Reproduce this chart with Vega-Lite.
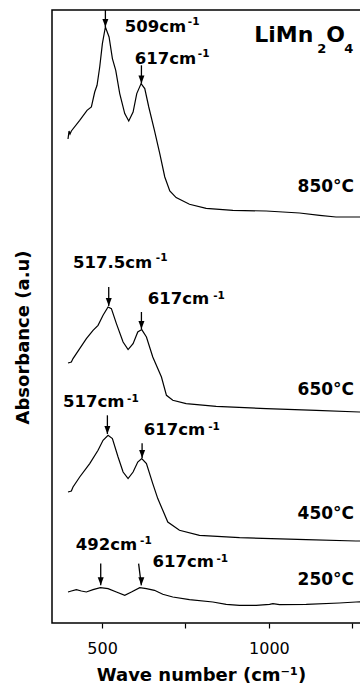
{
  "$schema": "https://vega.github.io/schema/vega-lite/v6.json",
  "autosize": {"type": "none"},
  "padding": {"left": 52, "top": 10, "right": 0, "bottom": 61},
  "width": 317,
  "height": 613,
  "background": "white",
  "config": {
    "view": {"stroke": "black", "strokeWidth": 1.5},
    "font": "DejaVu Sans"
  },
  "datasets": {
    "spectra": [
      {"s": "850", "x": 398, "y": 484}, {"s": "850", "x": 401, "y": 492}, {"s": "850", "x": 404, "y": 489}, {"s": "850", "x": 408, "y": 492},
      {"s": "850", "x": 433, "y": 502.7}, {"s": "850", "x": 455, "y": 512.7}, {"s": "850", "x": 468, "y": 516}, {"s": "850", "x": 478, "y": 531},
      {"s": "850", "x": 485, "y": 537.7}, {"s": "850", "x": 493, "y": 556}, {"s": "850", "x": 501, "y": 579.4}, {"s": "850", "x": 510, "y": 596},
      {"s": "850", "x": 521, "y": 586}, {"s": "850", "x": 531, "y": 564.4}, {"s": "850", "x": 541, "y": 552.7}, {"s": "850", "x": 553, "y": 529.4},
      {"s": "850", "x": 568, "y": 509.4}, {"s": "850", "x": 580, "y": 502}, {"s": "850", "x": 593, "y": 511}, {"s": "850", "x": 604, "y": 529.4},
      {"s": "850", "x": 617, "y": 539.4}, {"s": "850", "x": 628, "y": 534.4}, {"s": "850", "x": 640, "y": 516}, {"s": "850", "x": 657, "y": 492.7},
      {"s": "850", "x": 673, "y": 469.4}, {"s": "850", "x": 688, "y": 446}, {"s": "850", "x": 703, "y": 432}, {"s": "850", "x": 722, "y": 425.4},
      {"s": "850", "x": 762, "y": 418.7}, {"s": "850", "x": 812, "y": 414.7}, {"s": "850", "x": 892, "y": 412.7}, {"s": "850", "x": 992, "y": 412},
      {"s": "850", "x": 1092, "y": 410}, {"s": "850", "x": 1152, "y": 407.7}, {"s": "850", "x": 1201, "y": 406}, {"s": "850", "x": 1271, "y": 406},
      {"s": "850", "x": 1300, "y": 406},
      {"s": "650", "x": 398, "y": 260}, {"s": "650", "x": 408, "y": 261}, {"s": "650", "x": 413, "y": 264.4}, {"s": "650", "x": 433, "y": 274.4},
      {"s": "650", "x": 453, "y": 284.4}, {"s": "650", "x": 473, "y": 292.7}, {"s": "650", "x": 488, "y": 297.7}, {"s": "650", "x": 503, "y": 307.7},
      {"s": "650", "x": 518, "y": 316}, {"s": "650", "x": 528, "y": 314.4}, {"s": "650", "x": 543, "y": 299.4}, {"s": "650", "x": 563, "y": 281},
      {"s": "650", "x": 578, "y": 273.4}, {"s": "650", "x": 593, "y": 279.4}, {"s": "650", "x": 607, "y": 291}, {"s": "650", "x": 619, "y": 293.4},
      {"s": "650", "x": 633, "y": 286}, {"s": "650", "x": 652, "y": 266}, {"s": "650", "x": 678, "y": 246}, {"s": "650", "x": 693, "y": 227.7},
      {"s": "650", "x": 712, "y": 222.7}, {"s": "650", "x": 752, "y": 219.4}, {"s": "650", "x": 842, "y": 216.7}, {"s": "650", "x": 992, "y": 214.4},
      {"s": "650", "x": 1142, "y": 212.7}, {"s": "650", "x": 1271, "y": 211}, {"s": "650", "x": 1300, "y": 211},
      {"s": "450", "x": 398, "y": 131}, {"s": "450", "x": 408, "y": 132}, {"s": "450", "x": 413, "y": 136}, {"s": "450", "x": 433, "y": 146},
      {"s": "450", "x": 463, "y": 159.4}, {"s": "450", "x": 488, "y": 172.7}, {"s": "450", "x": 503, "y": 182.7}, {"s": "450", "x": 518, "y": 187.7},
      {"s": "450", "x": 531, "y": 184.4}, {"s": "450", "x": 548, "y": 166}, {"s": "450", "x": 563, "y": 151}, {"s": "450", "x": 578, "y": 144.4},
      {"s": "450", "x": 593, "y": 151}, {"s": "450", "x": 607, "y": 161}, {"s": "450", "x": 619, "y": 164.4}, {"s": "450", "x": 633, "y": 159.4},
      {"s": "450", "x": 652, "y": 139.4}, {"s": "450", "x": 667, "y": 124.4}, {"s": "450", "x": 682, "y": 112.7}, {"s": "450", "x": 697, "y": 101},
      {"s": "450", "x": 732, "y": 92.7}, {"s": "450", "x": 792, "y": 87.7}, {"s": "450", "x": 912, "y": 85.4}, {"s": "450", "x": 1112, "y": 83.4},
      {"s": "450", "x": 1261, "y": 82}, {"s": "450", "x": 1300, "y": 82},
      {"s": "250", "x": 398, "y": 31}, {"s": "250", "x": 408, "y": 32}, {"s": "250", "x": 423, "y": 33.4}, {"s": "250", "x": 438, "y": 32},
      {"s": "250", "x": 453, "y": 31}, {"s": "250", "x": 473, "y": 33.4}, {"s": "250", "x": 495, "y": 35.4}, {"s": "250", "x": 518, "y": 34.4},
      {"s": "250", "x": 543, "y": 31}, {"s": "250", "x": 568, "y": 27.7}, {"s": "250", "x": 588, "y": 31}, {"s": "250", "x": 613, "y": 35.4},
      {"s": "250", "x": 633, "y": 34.4}, {"s": "250", "x": 657, "y": 32.7}, {"s": "250", "x": 682, "y": 28.7}, {"s": "250", "x": 712, "y": 26},
      {"s": "250", "x": 762, "y": 23.4}, {"s": "250", "x": 832, "y": 21}, {"s": "250", "x": 872, "y": 18.7}, {"s": "250", "x": 912, "y": 17.7},
      {"s": "250", "x": 962, "y": 17.7}, {"s": "250", "x": 1002, "y": 18.7}, {"s": "250", "x": 1012, "y": 19.4}, {"s": "250", "x": 1032, "y": 18.4},
      {"s": "250", "x": 1112, "y": 18.7}, {"s": "250", "x": 1211, "y": 20}, {"s": "250", "x": 1261, "y": 21}, {"s": "250", "x": 1300, "y": 21.5}
    ],
    "arrows": [
      {"x": 510, "x2": 510, "y": 596, "y2": 613},
      {"x": 618, "x2": 618, "y": 539.4, "y2": 557.7},
      {"x": 520, "x2": 520, "y": 317, "y2": 336},
      {"x": 618, "x2": 618, "y": 294, "y2": 311},
      {"x": 516, "x2": 516, "y": 189, "y2": 207.7},
      {"x": 620, "x2": 620, "y": 165, "y2": 179.7},
      {"x": 496, "x2": 496, "y": 37.7, "y2": 59.4},
      {"x": 617.7, "x2": 609.6, "y": 37.7, "y2": 59.4}
    ],
    "labels": [
      {"x": 568, "y": 590.7, "t": "509cm"},
      {"x": 598, "y": 558.7, "t": "617cm"},
      {"x": 413, "y": 355.4, "t": "517.5cm"},
      {"x": 637, "y": 319.4, "t": "617cm"},
      {"x": 383, "y": 216, "t": "517cm"},
      {"x": 625, "y": 187.7, "t": "617cm"},
      {"x": 421, "y": 73.4, "t": "492cm"},
      {"x": 651, "y": 56, "t": "617cm"}
    ],
    "sups": [
      {"x": 757, "y": 597.7, "t": "-1"},
      {"x": 787, "y": 565.7, "t": "-1"},
      {"x": 661, "y": 361.7, "t": "-1"},
      {"x": 833, "y": 324.4, "t": "-1"},
      {"x": 575, "y": 221, "t": "-1"},
      {"x": 818, "y": 192.7, "t": "-1"},
      {"x": 614, "y": 78.7, "t": "-1"},
      {"x": 843, "y": 61, "t": "-1"}
    ],
    "temps": [
      {"x": 1086, "y": 431, "t": "850°C"},
      {"x": 1086, "y": 227.7, "t": "650°C"},
      {"x": 1086, "y": 103.7, "t": "450°C"},
      {"x": 1086, "y": 37.7, "t": "250°C"}
    ],
    "formula": [
      {"x": 956, "y": 580.7, "t": "LiMn"},
      {"x": 1172, "y": 580.7, "t": "O"}
    ],
    "subs": [
      {"x": 1145, "y": 569.7, "t": "2"},
      {"x": 1226, "y": 569.7, "t": "4"}
    ]
  },
  "layer": [
    {
      "data": {"name": "spectra"},
      "mark": {"type": "line", "color": "black", "strokeWidth": 1.2, "clip": true},
      "encoding": {
        "x": {
          "field": "x", "type": "quantitative",
          "scale": {"domain": [350, 1300], "nice": false, "zero": false},
          "axis": {
            "values": [500, 750, 1000, 1250],
            "labelExpr": "datum.value % 500 === 0 ? datum.value : ''",
            "grid": false, "domain": false,
            "tickSize": 5, "tickColor": "black", "tickWidth": 1.2,
            "labelFont": "DejaVu Sans", "labelFontSize": 16, "labelColor": "black",
            "labelPadding": 12, "labelFlush": false, "labelOverlap": false,
            "title": "Wave number (cm⁻¹)",
            "titleFont": "DejaVu Sans", "titleFontSize": 18, "titleFontWeight": "bold", "titleColor": "black",
            "titleX": 149, "titleY": 57, "titleBaseline": "alphabetic", "titleAlign": "center"
          }
        },
        "y": {
          "field": "y", "type": "quantitative",
          "scale": {"domain": [0, 613], "nice": false, "zero": false},
          "axis": {
            "ticks": false, "labels": false, "grid": false, "domain": false,
            "title": "Absorbance (a.u)",
            "titleFont": "DejaVu Sans", "titleFontSize": 18, "titleFontWeight": "bold", "titleColor": "black",
            "titleX": -29, "titleY": 327, "titleAngle": -90, "titleAlign": "center", "titleBaseline": "middle"
          }
        },
        "detail": {"field": "s"}
      }
    },
    {
      "data": {"name": "arrows"},
      "mark": {"type": "rule", "color": "black", "strokeWidth": 1.3},
      "encoding": {
        "x": {"field": "x", "type": "quantitative"},
        "x2": {"field": "x2"},
        "y": {"field": "y", "type": "quantitative"},
        "y2": {"field": "y2"}
      }
    },
    {
      "data": {"name": "arrows"},
      "mark": {"type": "point", "shape": "M-0.75,-2L0.75,-2L0,0Z", "filled": true, "color": "black", "size": 64, "opacity": 1},
      "encoding": {
        "x": {"field": "x", "type": "quantitative"},
        "y": {"field": "y", "type": "quantitative"}
      }
    },
    {
      "data": {"name": "labels"},
      "mark": {"type": "text", "align": "left", "baseline": "alphabetic", "font": "DejaVu Sans", "fontWeight": "bold", "fontSize": 16.5, "color": "black"},
      "encoding": {
        "x": {"field": "x", "type": "quantitative"},
        "y": {"field": "y", "type": "quantitative"},
        "text": {"field": "t"}
      }
    },
    {
      "data": {"name": "sups"},
      "mark": {"type": "text", "align": "left", "baseline": "alphabetic", "font": "DejaVu Sans", "fontWeight": "bold", "fontSize": 10.5, "color": "black"},
      "encoding": {
        "x": {"field": "x", "type": "quantitative"},
        "y": {"field": "y", "type": "quantitative"},
        "text": {"field": "t"}
      }
    },
    {
      "data": {"name": "temps"},
      "mark": {"type": "text", "align": "left", "baseline": "alphabetic", "font": "DejaVu Sans", "fontWeight": "bold", "fontSize": 17, "color": "black"},
      "encoding": {
        "x": {"field": "x", "type": "quantitative"},
        "y": {"field": "y", "type": "quantitative"},
        "text": {"field": "t"}
      }
    },
    {
      "data": {"name": "formula"},
      "mark": {"type": "text", "align": "left", "baseline": "alphabetic", "font": "DejaVu Sans", "fontWeight": "bold", "fontSize": 22, "color": "black"},
      "encoding": {
        "x": {"field": "x", "type": "quantitative"},
        "y": {"field": "y", "type": "quantitative"},
        "text": {"field": "t"}
      }
    },
    {
      "data": {"name": "subs"},
      "mark": {"type": "text", "align": "left", "baseline": "alphabetic", "font": "DejaVu Sans", "fontWeight": "bold", "fontSize": 13, "color": "black"},
      "encoding": {
        "x": {"field": "x", "type": "quantitative"},
        "y": {"field": "y", "type": "quantitative"},
        "text": {"field": "t"}
      }
    }
  ]
}
